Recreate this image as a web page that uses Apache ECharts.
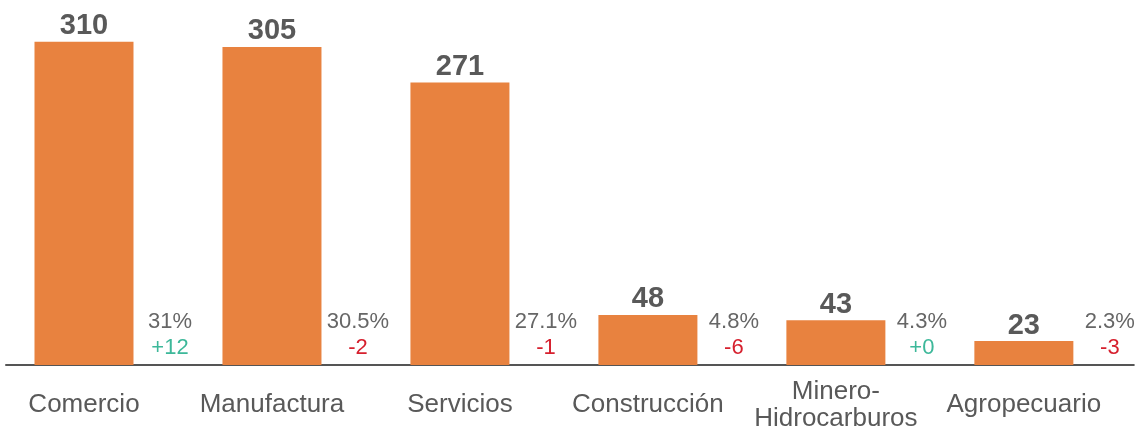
<!DOCTYPE html>
<html>
<head>
<meta charset="utf-8">
<script src="https://cdn.jsdelivr.net/npm/echarts@6/dist/echarts.min.js"></script>
<style>
  html, body { margin: 0; padding: 0; background: #fff; }
  #chart { width: 1136px; height: 432px; }
</style>
</head>
<body>
<div id="chart"></div>
<script>
const categories = ['Comercio', 'Manufactura', 'Servicios', 'Construcción', 'Minero-\nHidrocarburos', 'Agropecuario'];
const values = [310, 305, 271, 48, 43, 23];
const shares = ['31%', '30.5%', '27.1%', '4.8%', '4.3%', '2.3%'];
const changes = [12, -2, -1, -6, 0, -3];
const baseline = [0, 0, 0, 0, 0, 0];

const font = 'Liberation Sans';
const chart = echarts.init(document.getElementById('chart'));

chart.setOption({
    animation: false,
    grid: { left: 6, right: 0, top: 0, bottom: 67 },
    xAxis: {
        type: 'category',
        data: categories,
        axisLine: { lineStyle: { color: '#555', width: 2 } },
        axisTick: { show: false },
        axisLabel: {
            color: '#595959',
            fontFamily: font,
            fontSize: 26,
            lineHeight: 27,
            verticalAlign: 'middle',
            margin: 40,
            padding: [0, 32, 0, 0],
            interval: 0
        }
    },
    yAxis: {
        type: 'value',
        min: 0,
        max: 350,
        show: false,
        splitLine: { show: false }
    },
    series: [
        {
            type: 'bar',
            data: values,
            barWidth: 99,
            barGap: '31.3%',
            itemStyle: { color: '#E8823F' },
            label: {
                show: true,
                position: 'top',
                distance: 1,
                color: '#595959',
                fontFamily: font,
                fontWeight: 'bold',
                fontSize: 29
            }
        },
        {
            type: 'bar',
            data: baseline,
            barWidth: 1,
            itemStyle: { color: 'rgba(0,0,0,0)' },
            label: {
                show: true,
                position: 'top',
                distance: 4,
                offset: [5, 0],
                fontFamily: font,
                formatter: function (p) {
                    const c = changes[p.dataIndex];
                    const txt = (c >= 0 ? '+' : '') + c;
                    return '{p|' + shares[p.dataIndex] + '}\n' + (c >= 0 ? '{g|' : '{r|') + txt + '}';
                },
                rich: {
                    p: { color: '#666', fontSize: 22, lineHeight: 26, fontFamily: font },
                    g: { color: '#3DB89A', fontSize: 22, lineHeight: 26, fontFamily: font },
                    r: { color: '#D6202E', fontSize: 22, lineHeight: 26, fontFamily: font }
                }
            }
        }
    ]
});
</script>
</body>
</html>
